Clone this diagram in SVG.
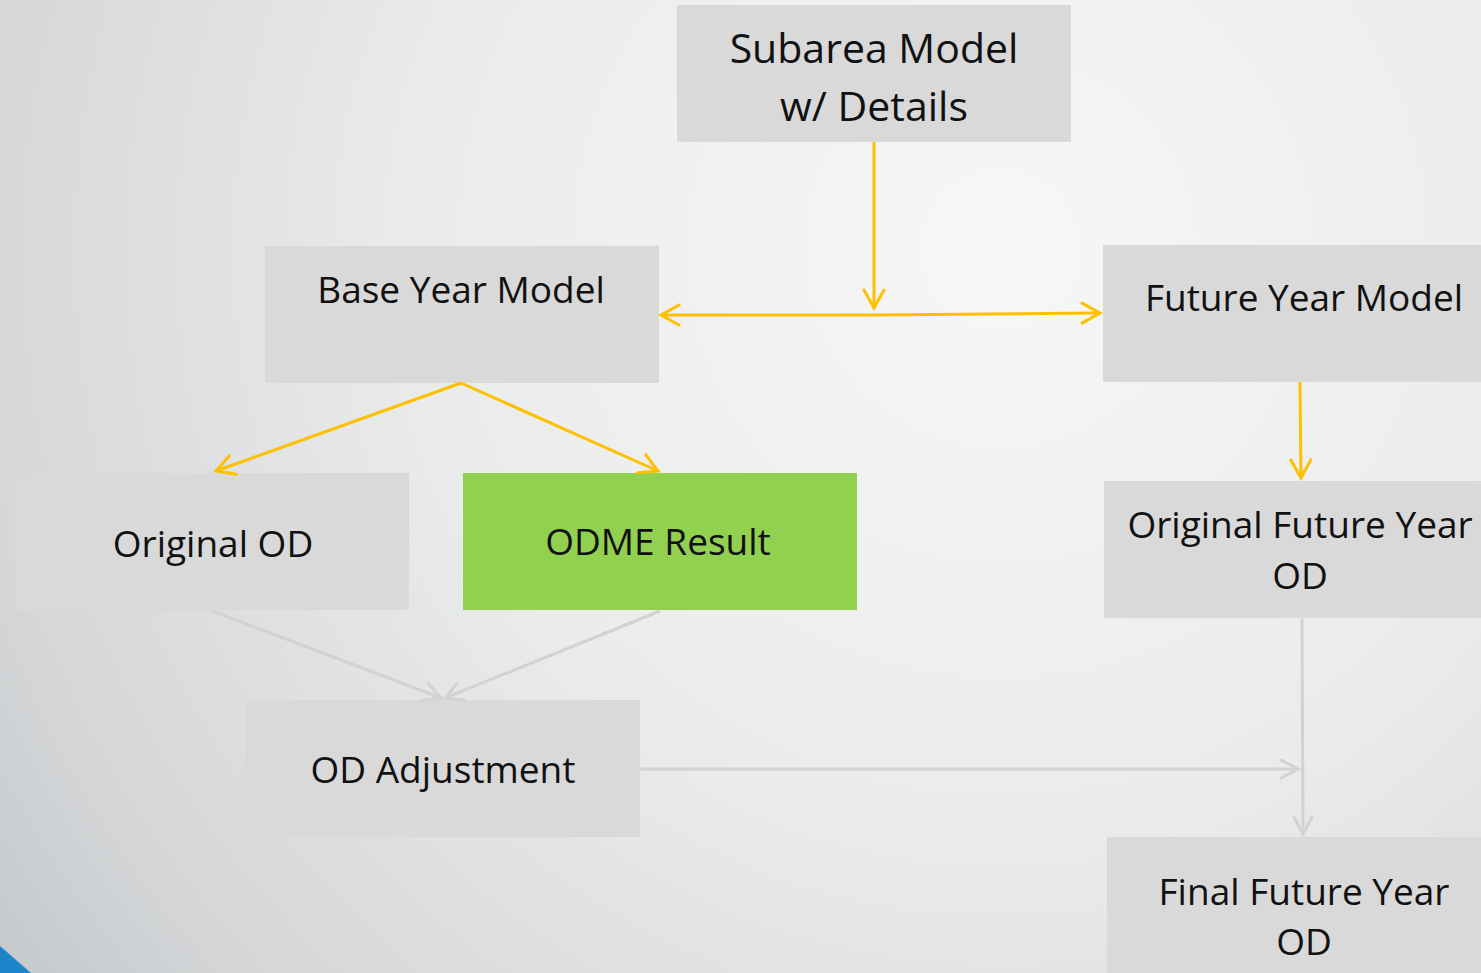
<svg xmlns="http://www.w3.org/2000/svg" width="1481" height="973" viewBox="0 0 1481 973">
<defs>
<radialGradient id="bg" cx="1000" cy="250" r="1300" gradientUnits="userSpaceOnUse">
<stop offset="0" stop-color="#f7f7f7"/>
<stop offset="0.45" stop-color="#eaebeb"/>
<stop offset="0.8" stop-color="#d4d6d8"/>
<stop offset="1" stop-color="#c0c4c6"/>
</radialGradient>
<marker id="ay" markerWidth="24" markerHeight="24" refX="20" refY="12" orient="auto" markerUnits="userSpaceOnUse">
<path d="M2,2 L20,12 L2,22" fill="none" stroke="#ffc000" stroke-width="3" stroke-linecap="round"/>
</marker>
<marker id="ag" markerWidth="24" markerHeight="24" refX="20" refY="12" orient="auto" markerUnits="userSpaceOnUse">
<path d="M3,3 L20,12 L3,21" fill="none" stroke="#d0d2d3" stroke-width="3" stroke-linecap="round"/>
</marker>
</defs>
<style>
.box{fill:#d9d9d9}
.green{fill:#92d050}
.t{font-family:"Open Sans","Lato",sans-serif;font-size:37px;fill:#111;text-anchor:middle}
.big{font-size:41px}
.cy{fill:none;stroke:#ffc000;stroke-width:3}
.cg{fill:none;stroke:#d0d2d3;stroke-width:3}
</style>
<rect x="0" y="0" width="1481" height="973" fill="url(#bg)"/>
<polygon points="0,946 31,973 0,973" fill="#1a86c9"/>
<g id="subarea"><rect class="box" x="677" y="5" width="394" height="137"/><text class="t big" x="874" y="63">Subarea Model</text><text class="t big" x="874" y="121">w/ Details</text></g>
<g id="base"><rect class="box" x="265" y="246" width="394" height="137"/><text class="t" x="461" y="303">Base Year Model</text></g>
<g id="future"><rect class="box" x="1103" y="245" width="378" height="137"/><text class="t" x="1304" y="311">Future Year Model</text></g>
<g id="origod"><rect class="box" x="15" y="473" width="394" height="137"/><text class="t" x="213" y="557">Original OD</text></g>
<g id="odme"><rect class="green" x="463" y="473" width="394" height="137"/><text class="t" x="658" y="555">ODME Result</text></g>
<g id="origfut"><rect class="box" x="1104" y="481" width="377" height="137"/><text class="t" x="1300" y="538">Original Future Year</text><text class="t" x="1300" y="589">OD</text></g>
<g id="odadj"><rect class="box" x="246" y="700" width="394" height="137"/><text class="t" x="443" y="783">OD Adjustment</text></g>
<g id="final"><rect class="box" x="1107" y="837" width="374" height="136"/><text class="t" x="1304" y="905">Final Future Year</text><text class="t" x="1304" y="955">OD</text></g>
<g id="connectors">
<path class="cy" d="M874,142 L874,308" marker-end="url(#ay)"/>
<path class="cy" d="M874,315 L661,315" marker-end="url(#ay)"/>
<path class="cy" d="M874,315 L1100,313" marker-end="url(#ay)"/>
<path class="cy" d="M461,383 L216,471" marker-end="url(#ay)"/>
<path class="cy" d="M461,383 L658,471" marker-end="url(#ay)"/>
<path class="cy" d="M1300,382 L1301,478" marker-end="url(#ay)"/>
<path class="cg" d="M212,611 L441,698" marker-end="url(#ag)"/>
<path class="cg" d="M660,611 L445,698" marker-end="url(#ag)"/>
<path class="cg" d="M640,769 L1298,769" marker-end="url(#ag)"/>
<path class="cg" d="M1302,619 L1303,834" marker-end="url(#ag)"/>
</g>
</svg>
